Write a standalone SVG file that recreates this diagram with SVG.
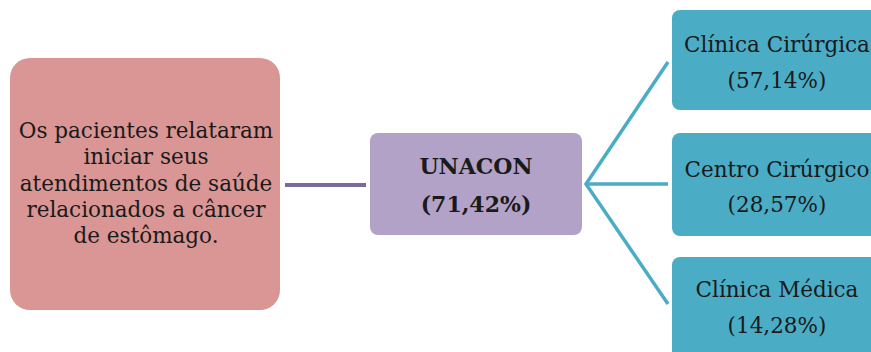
<svg xmlns="http://www.w3.org/2000/svg" width="871" height="352" viewBox="0 0 871 352">
<style>
.t{font-family:'DejaVu Serif','Liberation Serif',serif;font-size:21.5px;fill:#1a1a1a;text-anchor:middle}
.b{font-weight:bold;font-size:22px}
.teal{fill:#4bacc6}
.ln{stroke:#4bacc6;stroke-width:3.5;fill:none}
</style>
<rect width="871" height="352" fill="#ffffff"/>
<g id="connectors">
<line x1="285" y1="185" x2="366" y2="185" stroke="#7b6b9b" stroke-width="4"/>
<polyline class="ln" points="668,62 586,184 668,304"/>
<line class="ln" x1="586" y1="184" x2="668" y2="184"/>
</g>
<g id="n-left">
<rect x="10" y="58" width="270" height="252" rx="20" fill="#d99694"/>
<text class="t" x="146" y="138">Os pacientes relataram</text>
<text class="t" x="146" y="164">iniciar seus</text>
<text class="t" x="146" y="191">atendimentos de saúde</text>
<text class="t" x="146" y="217">relacionados a câncer</text>
<text class="t" x="146" y="243">de estômago.</text>
</g>
<g id="n-unacon">
<rect x="370" y="133" width="212" height="102" rx="8" fill="#b3a2c7"/>
<text class="t b" x="476" y="174">UNACON</text>
<text class="t b" x="476" y="212">(71,42%)</text>
</g>
<g id="n-cc">
<rect class="teal" x="672" y="10" width="210" height="100" rx="8"/>
<text class="t" x="777" y="52">Clínica Cirúrgica</text>
<text class="t" x="777" y="88">(57,14%)</text>
</g>
<g id="n-centro">
<rect class="teal" x="672" y="133" width="210" height="103" rx="8"/>
<text class="t" x="777" y="177">Centro Cirúrgico</text>
<text class="t" x="777" y="212">(28,57%)</text>
</g>
<g id="n-cm">
<rect class="teal" x="672" y="257" width="210" height="110" rx="8"/>
<text class="t" x="777" y="297">Clínica Médica</text>
<text class="t" x="777" y="333">(14,28%)</text>
</g>
</svg>
